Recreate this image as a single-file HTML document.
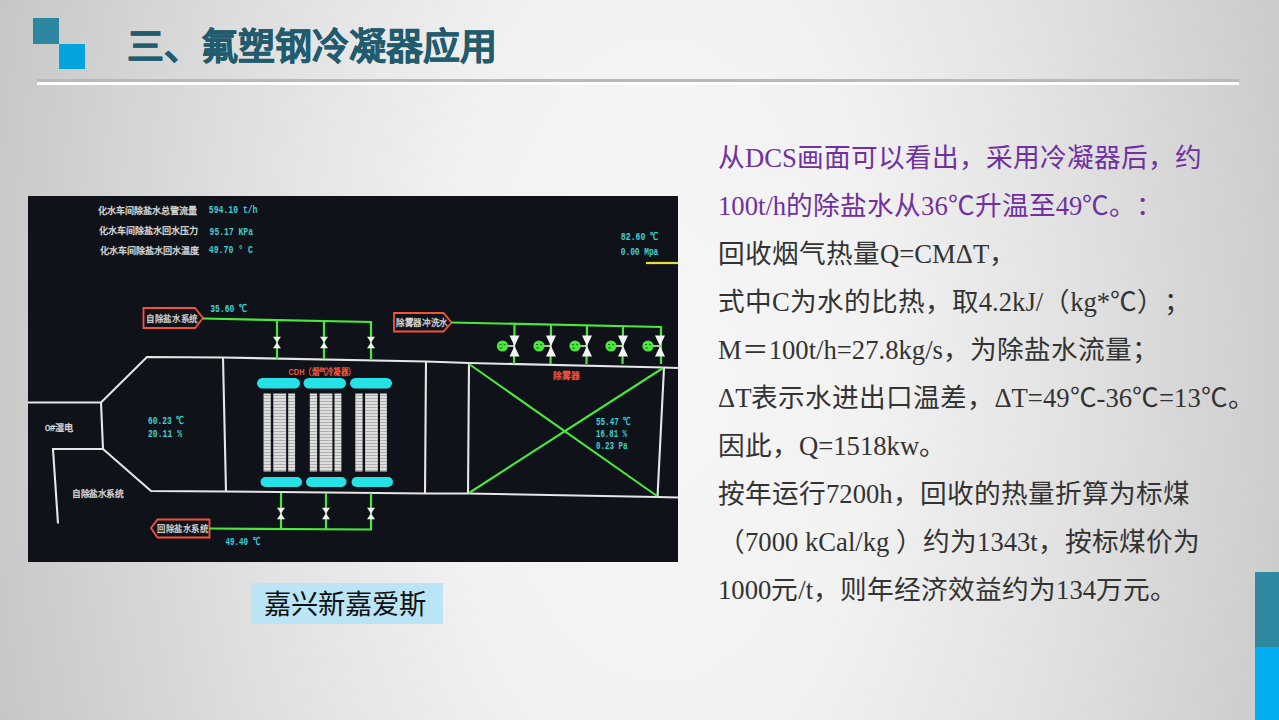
<!DOCTYPE html>
<html lang="zh-CN"><head><meta charset="utf-8">
<style>
html,body{margin:0;padding:0;text-spacing-trim:space-all;}
body{width:1279px;height:720px;position:relative;overflow:hidden;
 background:radial-gradient(ellipse 700px 1300px at 660px 360px, #f6f6f6 0%, #f2f2f2 30%, #e1e1e1 60%, #c9c9c9 95%, #c5c5c5 100%);
 font-family:"Liberation Sans",sans-serif;}
.a{position:absolute;}
#sq1{left:33px;top:18px;width:26px;height:26px;background:#2d87a1;}
#sq2{left:59px;top:44px;width:26px;height:25px;background:#06a4df;}
#title{left:127px;top:24.5px;-webkit-text-stroke:0.5px #215b6d;font-size:37px;font-weight:bold;color:#215b6d;white-space:nowrap;line-height:46px;letter-spacing:0px;}
#rule-sh{left:37px;top:79px;width:1202px;height:3px;background:#b9b9b9;}
#rule{left:37px;top:82px;width:1202px;height:3px;background:#ffffff;}
#bar1{left:1255px;top:572px;width:24px;height:75px;background:#2f89a0;}
#bar2{left:1255px;top:647px;width:24px;height:73px;background:#00adef;}
#dcs{left:28px;top:196px;width:650px;height:366px;}
#cap{left:251px;top:583px;width:192px;height:41px;background:#b9e5f6;}
#captxt{left:263.5px;top:584px;font-size:27.3px;line-height:41px;color:#111;white-space:nowrap;}
.ln{position:absolute;left:718px;font-family:"Liberation Serif",serif;font-size:26.67px;white-space:nowrap;line-height:30px;color:#333;}
.pu{color:#7030a0;}
</style></head><body>
<div class="a" id="sq1"></div><div class="a" id="sq2"></div>
<div class="a" id="title">三、氟塑钢冷凝器应用</div>
<div class="a" id="rule-sh"></div><div class="a" id="rule"></div>
<div class="a" id="bar1"></div><div class="a" id="bar2"></div>

<svg class="a" id="dcs" width="650" height="366" viewBox="28 196 650 366">
<rect x="28" y="196" width="650" height="366" fill="#10121a"/>
<text x="97.5" y="213.5" font-family="Liberation Sans" font-size="9.1" fill="#d9d9d9" text-anchor="start" font-weight="normal" stroke="#d9d9d9" stroke-width="0.35" >化水车间除盐水总管流量</text>
<text x="98.5" y="234" font-family="Liberation Sans" font-size="9.1" fill="#d9d9d9" text-anchor="start" font-weight="normal" stroke="#d9d9d9" stroke-width="0.35" >化水车间除盐水回水压力</text>
<text x="100" y="253.5" font-family="Liberation Sans" font-size="9.1" fill="#d9d9d9" text-anchor="start" font-weight="normal" stroke="#d9d9d9" stroke-width="0.35" >化水车间除盐水回水温度</text>
<text x="208.8" y="213.3" font-family="Liberation Mono" font-size="10.6" fill="#3fcfd2" text-anchor="start" font-weight="bold" textLength="48.7" lengthAdjust="spacingAndGlyphs">594.10 t/h</text>
<text x="209.6" y="234.6" font-family="Liberation Mono" font-size="10.6" fill="#3fcfd2" text-anchor="start" font-weight="bold" textLength="43.4" lengthAdjust="spacingAndGlyphs">95.17 KPa</text>
<text x="208.8" y="253.3" font-family="Liberation Mono" font-size="10.6" fill="#3fcfd2" text-anchor="start" font-weight="bold" textLength="44.2" lengthAdjust="spacingAndGlyphs">49.70 ° C</text>
<text x="620.8" y="239.5" font-family="Liberation Mono" font-size="10.6" fill="#3fcfd2" text-anchor="start" font-weight="bold" textLength="38" lengthAdjust="spacingAndGlyphs">82.60 ℃</text>
<text x="620.8" y="255" font-family="Liberation Mono" font-size="10.6" fill="#3fcfd2" text-anchor="start" font-weight="bold" textLength="37.5" lengthAdjust="spacingAndGlyphs">0.00 Mpa</text>
<line x1="646" y1="263" x2="678" y2="263" stroke="#e4e040" stroke-width="2.2"/>
<polyline points="28,402.5 101,402.5 147,357 223,357.5 426,361.5 469,363 664,367.5 678,368" fill="none" stroke="#e6e6e6" stroke-width="2.1" stroke-linejoin="miter"/>
<polyline points="101,402.5 103,449 53,449 58,523.5" fill="none" stroke="#e6e6e6" stroke-width="2.1"/>
<polyline points="103,449 151,491 226,491.5 426,493.5 468,493.5 657,497 678,497.5" fill="none" stroke="#e6e6e6" stroke-width="2.1"/>
<line x1="223" y1="357.5" x2="226" y2="491.5" stroke="#e6e6e6" stroke-width="2.1"/>
<line x1="426" y1="361.5" x2="425" y2="493.5" stroke="#e6e6e6" stroke-width="2.1"/>
<line x1="469" y1="363" x2="468" y2="493.5" stroke="#e6e6e6" stroke-width="2.1"/>
<line x1="664" y1="367.5" x2="657.5" y2="497" stroke="#e6e6e6" stroke-width="2.1"/>
<line x1="469" y1="364" x2="657" y2="496" stroke="#4ae83c" stroke-width="2.1"/>
<line x1="663" y1="368" x2="469" y2="493" stroke="#4ae83c" stroke-width="2.1"/>
<text x="45" y="431" font-family="Liberation Sans" font-size="9.2" fill="#d9d9d9" text-anchor="start" font-weight="normal" stroke="#d9d9d9" stroke-width="0.35" >0#湿电</text>
<text x="72" y="496.5" font-family="Liberation Sans" font-size="9.2" fill="#d9d9d9" text-anchor="start" font-weight="normal" stroke="#d9d9d9" stroke-width="0.35" textLength="51.5" lengthAdjust="spacingAndGlyphs">自除盐水系统</text>
<text x="148" y="423.6" font-family="Liberation Mono" font-size="10.6" fill="#3fcfd2" text-anchor="start" font-weight="bold" textLength="36.7" lengthAdjust="spacingAndGlyphs">60.23 ℃</text>
<text x="148" y="437" font-family="Liberation Mono" font-size="10.6" fill="#3fcfd2" text-anchor="start" font-weight="bold" textLength="34" lengthAdjust="spacingAndGlyphs">20.11 %</text>
<text x="596" y="425.2" font-family="Liberation Mono" font-size="10.6" fill="#3fcfd2" text-anchor="start" font-weight="bold" textLength="35.2" lengthAdjust="spacingAndGlyphs">55.47 ℃</text>
<text x="596" y="437" font-family="Liberation Mono" font-size="10.6" fill="#3fcfd2" text-anchor="start" font-weight="bold" textLength="31" lengthAdjust="spacingAndGlyphs">16.81 %</text>
<text x="596" y="449.3" font-family="Liberation Mono" font-size="10.6" fill="#3fcfd2" text-anchor="start" font-weight="bold" textLength="31.4" lengthAdjust="spacingAndGlyphs">0.23 Pa</text>
<text x="288.5" y="374.8" font-family="Liberation Sans" font-size="9.2" fill="#f5523a" text-anchor="start" font-weight="bold" textLength="66.5" lengthAdjust="spacingAndGlyphs">CDH（烟气冷凝器）</text>
<text x="553" y="378.8" font-family="Liberation Sans" font-size="8.9" fill="#f5523a" text-anchor="start" font-weight="bold" >除雾器</text>
<polygon points="143.5,308 195,308 203,318 195,328 143.5,328" fill="#10121a" stroke="#f5523a" stroke-width="1.8"/>
<text x="146" y="321.5" font-family="Liberation Sans" font-size="8.9" fill="#d9d9d9" text-anchor="start" font-weight="normal" stroke="#d9d9d9" stroke-width="0.3" textLength="52" lengthAdjust="spacingAndGlyphs">自除盐水系统</text>
<polygon points="151,528 157.5,519.5 209.5,519.5 209.5,537.5 157.5,537.5" fill="#10121a" stroke="#f5523a" stroke-width="1.8"/>
<text x="157" y="532" font-family="Liberation Sans" font-size="8.9" fill="#d9d9d9" text-anchor="start" font-weight="normal" stroke="#d9d9d9" stroke-width="0.3" textLength="51" lengthAdjust="spacingAndGlyphs">回除盐水系统</text>
<polygon points="394,313 443.5,313 451.5,322.5 443.5,331.5 394,331.5" fill="#10121a" stroke="#f5523a" stroke-width="1.8"/>
<text x="396" y="326" font-family="Liberation Sans" font-size="8.9" fill="#d9d9d9" text-anchor="start" font-weight="normal" stroke="#d9d9d9" stroke-width="0.3" textLength="52" lengthAdjust="spacingAndGlyphs">除雾器冲洗水</text>
<text x="210.3" y="311.8" font-family="Liberation Mono" font-size="10.6" fill="#3fcfd2" text-anchor="start" font-weight="bold" textLength="37.2" lengthAdjust="spacingAndGlyphs">35.60 ℃</text>
<text x="225.5" y="545.3" font-family="Liberation Mono" font-size="10.6" fill="#3fcfd2" text-anchor="start" font-weight="bold" textLength="35" lengthAdjust="spacingAndGlyphs">49.40 ℃</text>
<polyline points="203,318.5 371,322 371,359.5" fill="none" stroke="#4ae83c" stroke-width="2.2"/>
<line x1="277" y1="320.5" x2="277" y2="359" stroke="#4ae83c" stroke-width="2.2"/>
<line x1="324" y1="321.5" x2="324" y2="359" stroke="#4ae83c" stroke-width="2.2"/>
<polygon points="273.0,336.75 281.0,336.75 273.0,348.25 281.0,348.25" fill="#f4f4f4"/>
<polygon points="320.0,336.75 328.0,336.75 320.0,348.25 328.0,348.25" fill="#f4f4f4"/>
<polygon points="367.0,336.75 375.0,336.75 367.0,348.25 375.0,348.25" fill="#f4f4f4"/>
<polyline points="209.5,528.5 371,529.5 371,493" fill="none" stroke="#4ae83c" stroke-width="2.2"/>
<line x1="281" y1="493" x2="281" y2="529" stroke="#4ae83c" stroke-width="2.2"/>
<line x1="326" y1="493" x2="326" y2="529" stroke="#4ae83c" stroke-width="2.2"/>
<polygon points="277.0,507.75 285.0,507.75 277.0,519.25 285.0,519.25" fill="#f4f4f4"/>
<polygon points="322.0,507.75 330.0,507.75 322.0,519.25 330.0,519.25" fill="#f4f4f4"/>
<polygon points="367.0,507.75 375.0,507.75 367.0,519.25 375.0,519.25" fill="#f4f4f4"/>
<polyline points="451.5,322.5 661,327 661,364" fill="none" stroke="#4ae83c" stroke-width="2.2"/>
<line x1="514.5" y1="324" x2="514.0" y2="364" stroke="#4ae83c" stroke-width="2.2"/>
<line x1="551" y1="325" x2="550.5" y2="364" stroke="#4ae83c" stroke-width="2.2"/>
<line x1="587" y1="325.5" x2="586.5" y2="364" stroke="#4ae83c" stroke-width="2.2"/>
<line x1="623" y1="326.5" x2="622.5" y2="364" stroke="#4ae83c" stroke-width="2.2"/>
<polygon points="509.5,335.5 519.5,335.5 509.5,356.5 519.5,356.5" fill="#f4f4f4"/>
<line x1="502.5" y1="346" x2="514.5" y2="346" stroke="#f0f0f0" stroke-width="1.5"/>
<circle cx="502.5" cy="346" r="5.6" fill="#4ae83c"/>
<path d="M499.5,344.5 l2,0 M503.5,344 l2,1 M499.5,348 l3,0" stroke="#1c6a1c" stroke-width="1"/>
<polygon points="546.0,335.5 556.0,335.5 546.0,356.5 556.0,356.5" fill="#f4f4f4"/>
<line x1="539" y1="346" x2="551" y2="346" stroke="#f0f0f0" stroke-width="1.5"/>
<circle cx="539" cy="346" r="5.6" fill="#4ae83c"/>
<path d="M536,344.5 l2,0 M540,344 l2,1 M536,348 l3,0" stroke="#1c6a1c" stroke-width="1"/>
<polygon points="582.0,335.5 592.0,335.5 582.0,356.5 592.0,356.5" fill="#f4f4f4"/>
<line x1="575" y1="346" x2="587" y2="346" stroke="#f0f0f0" stroke-width="1.5"/>
<circle cx="575" cy="346" r="5.6" fill="#4ae83c"/>
<path d="M572,344.5 l2,0 M576,344 l2,1 M572,348 l3,0" stroke="#1c6a1c" stroke-width="1"/>
<polygon points="618.0,335.5 628.0,335.5 618.0,356.5 628.0,356.5" fill="#f4f4f4"/>
<line x1="611" y1="346" x2="623" y2="346" stroke="#f0f0f0" stroke-width="1.5"/>
<circle cx="611" cy="346" r="5.6" fill="#4ae83c"/>
<path d="M608,344.5 l2,0 M612,344 l2,1 M608,348 l3,0" stroke="#1c6a1c" stroke-width="1"/>
<polygon points="655.0,335.5 665.0,335.5 655.0,356.5 665.0,356.5" fill="#f4f4f4"/>
<line x1="648" y1="346" x2="660" y2="346" stroke="#f0f0f0" stroke-width="1.5"/>
<circle cx="648" cy="346" r="5.6" fill="#4ae83c"/>
<path d="M645,344.5 l2,0 M649,344 l2,1 M645,348 l3,0" stroke="#1c6a1c" stroke-width="1"/>
<rect x="257" y="378" width="43" height="10.5" rx="5.25" fill="#24e2e6"/>
<rect x="303.5" y="378" width="42.5" height="10.5" rx="5.25" fill="#24e2e6"/>
<rect x="350" y="378" width="42" height="10.5" rx="5.25" fill="#24e2e6"/>
<rect x="260.5" y="477" width="41.5" height="10" rx="5" fill="#24e2e6"/>
<rect x="306" y="477" width="40.5" height="10" rx="5" fill="#24e2e6"/>
<rect x="351.5" y="477" width="41.5" height="10" rx="5" fill="#24e2e6"/>
<defs><pattern id="stripe" width="4" height="3" patternUnits="userSpaceOnUse"><rect width="4" height="3" fill="#dedede"/><rect y="2.3" width="4" height="0.7" fill="#9a9a9a"/></pattern></defs>
<rect x="263.5" y="393.5" width="7.300000000000011" height="78" fill="url(#stripe)"/>
<rect x="273.3" y="393.5" width="12.800000000000011" height="78" fill="url(#stripe)"/>
<rect x="288.2" y="393.5" width="6.900000000000034" height="78" fill="url(#stripe)"/>
<rect x="309.8" y="393.5" width="7.300000000000011" height="78" fill="url(#stripe)"/>
<rect x="319.6" y="393.5" width="12.800000000000011" height="78" fill="url(#stripe)"/>
<rect x="334.5" y="393.5" width="6.900000000000034" height="78" fill="url(#stripe)"/>
<rect x="355.3" y="393.5" width="7.300000000000011" height="78" fill="url(#stripe)"/>
<rect x="365.1" y="393.5" width="12.800000000000011" height="78" fill="url(#stripe)"/>
<rect x="380.0" y="393.5" width="6.900000000000034" height="78" fill="url(#stripe)"/>
</svg>

<div class="a" id="cap"></div>
<div class="a" id="captxt">嘉兴新嘉爱斯</div>

<div class="ln pu" style="top:143px">从DCS画面可以看出，采用冷凝器后，约</div>
<div class="ln pu" style="top:191px">100t/h的除盐水从36℃升温至49℃。：</div>
<div class="ln" style="top:239px">回收烟气热量Q=CMΔT，</div>
<div class="ln" style="top:287px">式中C为水的比热，取4.2kJ/（kg*℃）；</div>
<div class="ln" style="top:335px">M＝100t/h=27.8kg/s，为除盐水流量；</div>
<div class="ln" style="top:383px">ΔT表示水进出口温差，ΔT=49℃-36℃=13℃。</div>
<div class="ln" style="top:431px">因此，Q=1518kw。</div>
<div class="ln" style="top:479px">按年运行7200h，回收的热量折算为标煤</div>
<div class="ln" style="top:527px">（7000 kCal/kg ）约为1343t，按标煤价为</div>
<div class="ln" style="top:575px">1000元/t，则年经济效益约为134万元。</div>
</body></html>
